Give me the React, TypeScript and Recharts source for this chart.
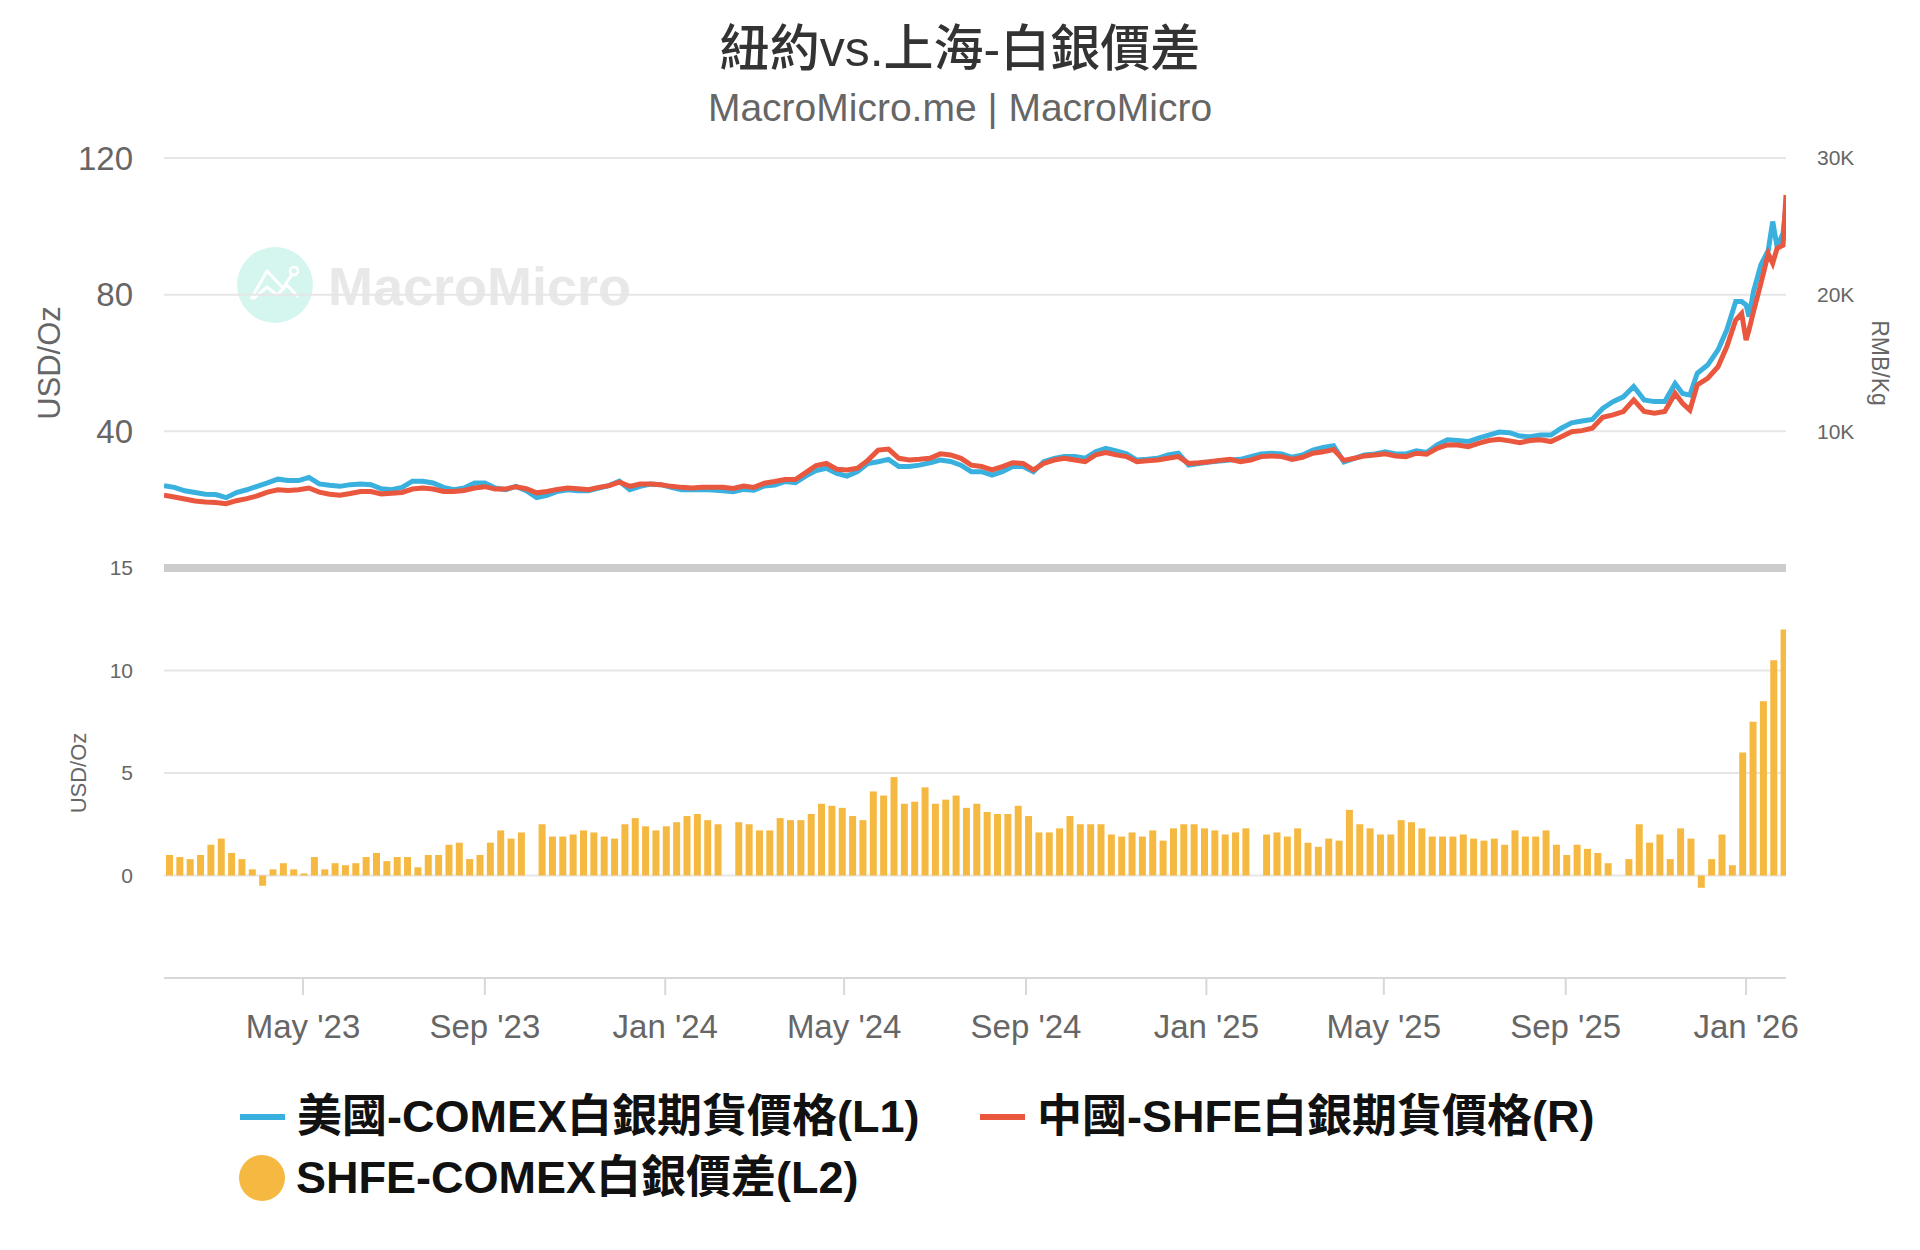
import React from "react";
import {
  LineChart,
  Line,
  BarChart,
  Bar,
  XAxis,
  YAxis,
  CartesianGrid,
  ReferenceLine,
} from "recharts";

const START = Date.UTC(2023, 0, 27);
const DAY = 86400000;
const LAST_DAY = 1097;

// COMEX silver, USD/oz, one point a week from 27 Jan 2023
const comexWeekly = [
  24.1, 23.6, 22.6, 22.1, 21.6, 21.5, 20.6, 22.1, 22.9, 23.9,
  24.9, 26.0, 25.6, 25.6, 26.5, 24.6, 24.2, 23.9, 24.4, 24.6,
  24.4, 23.2, 22.9, 23.6, 25.4, 25.4, 24.9, 23.6, 22.9, 23.4,
  24.9, 24.9, 23.4, 22.9, 23.9, 22.6, 20.6, 21.3, 22.4, 22.9,
  22.6, 22.6, 23.4, 24.1, 25.4, 22.9, 23.9, 24.6, 24.4, 23.6,
  22.9, 22.9, 23.0, 22.8, 22.6, 22.3, 23.0, 22.8, 24.0, 24.3,
  25.3, 25.0, 26.9, 28.5, 29.2, 27.7, 26.9, 28.2, 30.6, 31.1,
  31.8, 29.7, 29.7, 30.1, 30.8, 31.6, 31.2, 30.1, 28.2, 28.2,
  27.2, 28.2, 29.7, 29.7, 28.2, 31.1, 32.1, 32.6, 32.6, 32.1,
  34.0, 35.0, 34.3, 33.4, 31.6, 31.8, 32.1, 33.1, 33.6, 30.1,
  30.6, 31.0, 31.3, 31.6, 31.8, 32.6, 33.4, 33.6, 33.4, 32.4,
  33.1, 34.5, 35.3, 35.8, 31.0, 32.1, 33.1, 33.4, 34.0, 33.4,
  33.4, 34.3, 33.8, 36.0, 37.5, 37.3, 37.0, 38.0, 38.9, 39.8,
  39.6, 38.6, 38.4, 38.9, 38.9, 40.9, 42.5, 43.0, 43.5, 46.7,
  48.7, 50.1, 53.1, 49.2, 48.7, 48.7, 54.0,
];

// SHFE silver, RMB/kg, same weeks
const shfeWeekly = [
  5325, 5200, 5050, 4900, 4825, 4800, 4700, 4925, 5075, 5275,
  5550, 5725, 5675, 5725, 5850, 5550, 5400, 5325, 5450, 5600,
  5600, 5425, 5475, 5525, 5775, 5850, 5775, 5600, 5600, 5675,
  5850, 5950, 5775, 5775, 5950, 5800, 5500, 5600, 5750, 5850,
  5800, 5725, 5900, 6025, 6275, 5975, 6150, 6150, 6100, 5975,
  5900, 5850, 5900, 5900, 5900, 5825, 6000, 5900, 6200, 6325,
  6475, 6475, 6975, 7500, 7650, 7225, 7175, 7300, 7875, 8625,
  8700, 8025, 7900, 7950, 8025, 8350, 8275, 8025, 7525, 7425,
  7175, 7425, 7700, 7650, 7175, 7650, 7900, 8025, 7900, 7775,
  8275, 8450, 8275, 8150, 7775, 7850, 7900, 8025, 8150, 7650,
  7700, 7775, 7875, 7950, 7775, 7900, 8150, 8200, 8150, 7950,
  8100, 8400, 8500, 8675, 7875, 8025, 8200, 8275, 8350, 8200,
  8150, 8400, 8325, 8750, 9000, 9000, 8875, 9125, 9325, 9425,
  9300, 9175, 9325, 9375, 9250, 9600, 9975, 10050, 10225, 11025,
  11200, 11450, 12300, 11450, 11325, 11450, 12775,
];

// late Nov 2025 onwards moves fast, so read every few days
const lateDays = [1027, 1032, 1037, 1044, 1051, 1057, 1063, 1067, 1070, 1072, 1075, 1080, 1085, 1088, 1091, 1095, 1097];
const comexLate = [51.1, 50.6, 57.0, 59.4, 63.8, 69.7, 78.0, 78.0, 77.0, 73.6, 80.9, 88.7, 93.0, 101.4, 94.0, 98.0, 106.0];
const shfeLate = [12050, 11550, 13400, 13875, 14725, 16200, 18150, 18625, 16675, 17425, 18750, 20825, 23000, 22300, 23400, 23625, 27300];

// SHFE - COMEX spread, USD/oz, weekly; null = China holiday week
const spreadWeekly: (number | null)[] = [
  1.0, 0.9, 0.8, 1.0, 1.5, 1.8, 1.1, 0.8, 0.3, -0.5,
  0.3, 0.6, 0.3, 0.1, 0.9, 0.3, 0.6, 0.5, 0.6, 0.9,
  1.1, 0.7, 0.9, 0.9, 0.4, 1.0, 1.0, 1.5, 1.6, 0.8,
  1.0, 1.6, 2.2, 1.8, 2.1, null, 2.5, 1.9, 1.9, 2.0,
  2.2, 2.1, 1.9, 1.8, 2.5, 2.8, 2.4, 2.2, 2.4, 2.6,
  2.9, 3.0, 2.7, 2.5, null, 2.6, 2.5, 2.2, 2.2, 2.8,
  2.7, 2.7, 3.0, 3.5, 3.4, 3.3, 2.9, 2.7, 4.1, 3.9,
  4.8, 3.5, 3.6, 4.3, 3.5, 3.7, 3.9, 3.3, 3.5, 3.1,
  3.0, 3.0, 3.4, 2.9, 2.1, 2.1, 2.3, 2.9, 2.5, 2.5,
  2.5, 2.0, 1.9, 2.1, 1.9, 2.2, 1.7, 2.3, 2.5, 2.5,
  2.3, 2.2, 2.0, 2.1, 2.3, null, 2.0, 2.1, 1.9, 2.3,
  1.6, 1.4, 1.8, 1.7, 3.2, 2.5, 2.3, 2.0, 2.0, 2.7,
  2.6, 2.3, 1.9, 1.9, 1.9, 2.0, 1.8, 1.7, 1.8, 1.5,
  2.2, 1.9, 1.9, 2.2, 1.5, 1.0, 1.5, 1.3, 1.1, 0.6,
  null, 0.8, 2.5, 1.6, 2.0, 0.8, 2.3, 1.8, -0.6, 0.8,
  2.0, 0.5, 6.0, 7.5, 8.5, 10.5, 12.0,
];

const tickMonths: [number, number][] = [
  [2023, 4], [2023, 8], [2024, 0], [2024, 4], [2024, 8],
  [2025, 0], [2025, 4], [2025, 8], [2026, 0],
];
const MONTHS = ["Jan", "Feb", "Mar", "Apr", "May", "Jun", "Jul", "Aug", "Sep", "Oct", "Nov", "Dec"];

const BLUE = "#3ab0de";
const RED = "#e9573f";
const GOLD = "#f5b942";
const GRID = "#e6e6e6";
const FONT = '"Liberation Sans", "Noto Sans CJK TC", sans-serif';

const lineData = [
  ...comexWeekly.map((v, i) => ({ t: START + i * 7 * DAY, comex: v, shfe: shfeWeekly[i] })),
  ...lateDays.map((d, i) => ({ t: START + d * DAY, comex: comexLate[i], shfe: shfeLate[i] })),
];
const barData = spreadWeekly.map((v, i) => ({ t: START + (i * 7 + 3.5) * DAY, spread: v }));

const xDomain = [START, START + LAST_DAY * DAY];
const xTicks = tickMonths.map(([y, m]) => Date.UTC(y, m, 1));
const fmtMonth = (t: number) => {
  const d = new Date(t);
  return `${MONTHS[d.getUTCMonth()]} '${String(d.getUTCFullYear()).slice(2)}`;
};

function Watermark() {
  return (
    <svg style={{ position: "absolute", left: 0, top: 0 }} width={700} height={360}>
      <circle cx={275} cy={285} r={38} fill="#d5f5ef" />
      <polyline points="251,299 267,271 283,288 293,273" fill="none" stroke="#fff" strokeWidth={3} strokeLinejoin="round" />
      <polyline points="253,299 267,287 277,295 287,285 298,297" fill="none" stroke="#fff" strokeWidth={3} strokeLinejoin="round" />
      <circle cx={294} cy={271} r={4} fill="none" stroke="#fff" strokeWidth={2.5} />
      <text x={328} y={286} dominantBaseline="central" fontSize={54} fontWeight={700} fill="#e8e8e8">
        MacroMicro
      </text>
    </svg>
  );
}

function LegendItem({ left, top, color, label, dot }: { left: number; top: number; color: string; label: string; dot?: boolean }) {
  return (
    <div style={{ position: "absolute", left, top, height: 50, display: "flex", alignItems: "center" }}>
      {dot ? (
        <span style={{ width: 46, height: 46, borderRadius: 23, background: color, marginRight: 11 }} />
      ) : (
        <span style={{ width: 45, height: 6, background: color, marginRight: 12 }} />
      )}
      <span style={{ fontSize: 45, fontWeight: 700, color: "#111", lineHeight: "50px", whiteSpace: "nowrap" }}>{label}</span>
    </div>
  );
}

export default function App() {
  return (
    <div style={{ position: "relative", width: 1920, height: 1250, background: "#fff", fontFamily: FONT, overflow: "hidden" }}>
      <style>{"body{margin:0}"}</style>
      <div style={{ position: "absolute", top: 24, left: 0, width: 1920, textAlign: "center", fontSize: 50, lineHeight: "50px", color: "#333", fontWeight: 500 }}>
        紐約vs.上海-白銀價差
      </div>
      <div style={{ position: "absolute", top: 88, left: 0, width: 1920, textAlign: "center", fontSize: 39, lineHeight: "39px", color: "#666" }}>
        MacroMicro.me | MacroMicro
      </div>
      <Watermark />

      <div style={{ position: "absolute", top: 0, left: 0 }}>
        <LineChart width={1920} height={600} data={lineData} margin={{ top: 158, right: 0, bottom: 32, left: 0 }}>
          <CartesianGrid vertical={false} stroke={GRID} strokeWidth={2} />
          <XAxis dataKey="t" type="number" domain={xDomain} ticks={xTicks} hide allowDataOverflow />
          <YAxis
            domain={[0, 120]}
            ticks={[40, 80, 120]}
            interval={0}
            width={164}
            axisLine={false}
            tickLine={false}
            tickSize={0}
            tickMargin={31}
            tick={{ fontSize: 33, fill: "#666" }}
            label={{ value: "USD/Oz", angle: -90, position: "insideLeft", offset: 49, style: { textAnchor: "middle", fontSize: 31, fill: "#666" } }}
          />
          <YAxis
            yAxisId="rmb"
            orientation="right"
            domain={[0, 30000]}
            ticks={[10000, 20000, 30000]}
            interval={0}
            width={134}
            axisLine={false}
            tickLine={false}
            tickSize={0}
            tickMargin={31}
            tickFormatter={(v: number) => `${v / 1000}K`}
            tick={{ fontSize: 21, fill: "#666" }}
            label={{ value: "RMB/Kg", angle: 90, position: "insideRight", offset: 40, style: { textAnchor: "middle", fontSize: 23, fill: "#666" } }}
          />
          <Line dataKey="comex" stroke={BLUE} strokeWidth={5} dot={false} isAnimationActive={false} />
          <Line dataKey="shfe" yAxisId="rmb" stroke={RED} strokeWidth={5} dot={false} isAnimationActive={false} />
        </LineChart>
      </div>

      <div style={{ position: "absolute", top: 540, left: 0 }}>
        <BarChart width={1920} height={560} data={barData} margin={{ top: 28, right: 134, bottom: 62, left: 0 }}>
          <CartesianGrid vertical={false} stroke={GRID} strokeWidth={2} />
          <XAxis
            dataKey="t"
            type="number"
            domain={xDomain}
            ticks={xTicks}
            interval={0}
            allowDataOverflow
            height={60}
            tickFormatter={fmtMonth}
            tick={{ fontSize: 33, fill: "#666" }}
            axisLine={{ stroke: "#d8d8d8", strokeWidth: 2 }}
            tickLine={{ stroke: "#d8d8d8", strokeWidth: 2 }}
            tickSize={17}
            tickMargin={20}
          />
          <YAxis
            domain={[-5, 15]}
            ticks={[0, 5, 10, 15]}
            interval={0}
            width={164}
            axisLine={false}
            tickLine={false}
            tickSize={0}
            tickMargin={31}
            tick={{ fontSize: 21, fill: "#666" }}
            label={{ value: "USD/Oz", angle: -90, position: "insideLeft", offset: 78, style: { textAnchor: "middle", fontSize: 22, fill: "#666" } }}
          />
          <ReferenceLine y={15} stroke="#cccccc" strokeWidth={8} />
          <Bar dataKey="spread" fill={GOLD} barSize={7} isAnimationActive={false} />
        </BarChart>
      </div>

      <LegendItem left={240} top={1092} color={BLUE} label="美國-COMEX白銀期貨價格(L1)" />
      <LegendItem left={980} top={1092} color={RED} label="中國-SHFE白銀期貨價格(R)" />
      <LegendItem left={239} top={1153} color={GOLD} label="SHFE-COMEX白銀價差(L2)" dot />
    </div>
  );
}
